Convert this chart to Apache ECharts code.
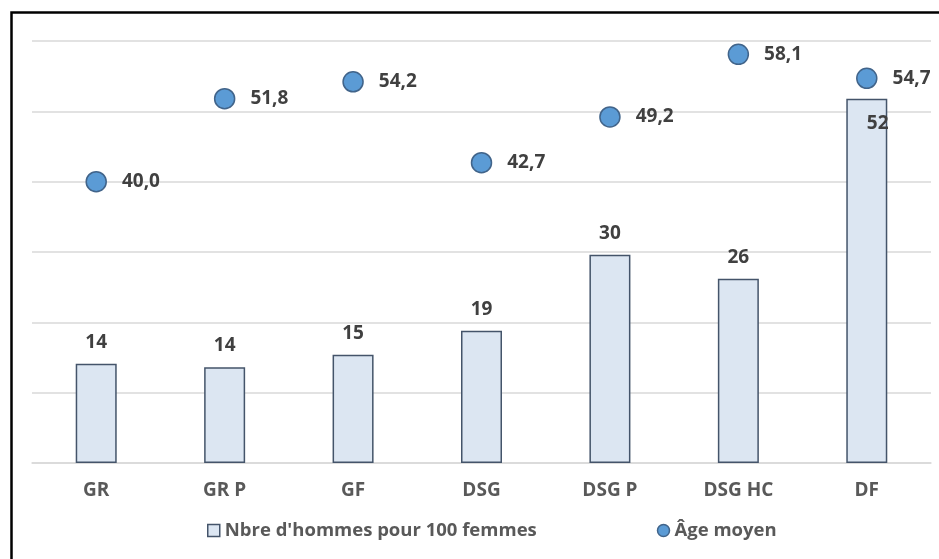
<!DOCTYPE html>
<html>
<head>
<meta charset="utf-8">
<script src="https://cdn.jsdelivr.net/npm/echarts@6/dist/echarts.min.js"></script>
<style>
  html, body { margin: 0; padding: 0; background: #fff; }
  #chart { width: 939px; height: 559px; }
</style>
</head>
<body>
<div id="chart"></div>
<script>
// catégories
const categories = ['GR', 'GR P', 'GF', 'DSG', 'DSG P', 'DSG HC', 'DF'];
// Nbre d'hommes pour 100 femmes (affiché arrondi)
const hommes = [14.1, 13.6, 15.4, 18.8, 29.6, 26.2, 51.8];
// Âge moyen
const ageMoyen = [40.0, 51.8, 54.2, 42.7, 49.2, 58.1, 54.7];

const fontFam = '"Open Sans", "Noto Sans", sans-serif';

const chart = echarts.init(document.getElementById('chart'));

const option = {
  animation: false,
  textStyle: { fontFamily: fontFam },
  graphic: [
    {
      type: 'polyline',
      shape: { points: [[11.5, 559], [11.5, 12.5], [939, 12.5]] },
      style: { stroke: '#000', lineWidth: 2.5, fill: null }
    }
  ],
  grid: { left: 32, right: 8, top: 41, bottom: 96 },
  legend: {
    bottom: 14,
    left: 202,
    itemGap: 120,
    itemWidth: 12,
    itemHeight: 12,
    itemStyle: { borderWidth: 1.5 },
    textStyle: { fontSize: 18.5, fontWeight: 'bold', color: '#595959', fontFamily: fontFam },
    data: [
      { name: "Nbre d'hommes pour 100 femmes", icon: 'rect' },
      { name: 'Âge moyen', icon: 'circle' }
    ]
  },
  xAxis: {
    type: 'category',
    data: categories,
    axisLine: { lineStyle: { color: '#d9d9d9', width: 1.5 } },
    axisTick: { show: false },
    axisLabel: { fontSize: 19, fontWeight: 'bold', color: '#595959', margin: 18, fontFamily: fontFam }
  },
  yAxis: {
    type: 'value',
    min: 0,
    max: 60,
    interval: 10,
    axisLabel: { show: false },
    axisLine: { show: false },
    axisTick: { show: false },
    splitLine: { lineStyle: { color: '#d9d9d9', width: 1.5 } }
  },
  series: [
    {
      name: "Nbre d'hommes pour 100 femmes",
      type: 'bar',
      data: hommes,
      barWidth: 41,
      itemStyle: { color: '#dce6f2', borderColor: '#44546a', borderWidth: 1.5 },
      label: {
        show: true,
        position: 'top',
        distance: 12,
        fontSize: 19,
        fontWeight: 'bold',
        color: '#404040',
        fontFamily: fontFam,
        formatter: p => Math.round(p.value)
      },
      labelLayout: function (params) {
        if (params.dataIndex === 6) {
          return { y: params.rect.y + 25, verticalAlign: 'middle' };
        }
      }
    },
    {
      name: 'Âge moyen',
      type: 'scatter',
      data: ageMoyen,
      symbolSize: 20,
      itemStyle: { color: '#5b9bd5', borderColor: '#41648a', borderWidth: 1.5, opacity: 1 },
      label: {
        show: true,
        position: 'right',
        distance: 15,
        fontSize: 19,
        fontWeight: 'bold',
        color: '#404040',
        fontFamily: fontFam,
        formatter: p => p.value.toFixed(1).replace('.', ',')
      }
    }
  ]
};

chart.setOption(option);
</script>
</body>
</html>
